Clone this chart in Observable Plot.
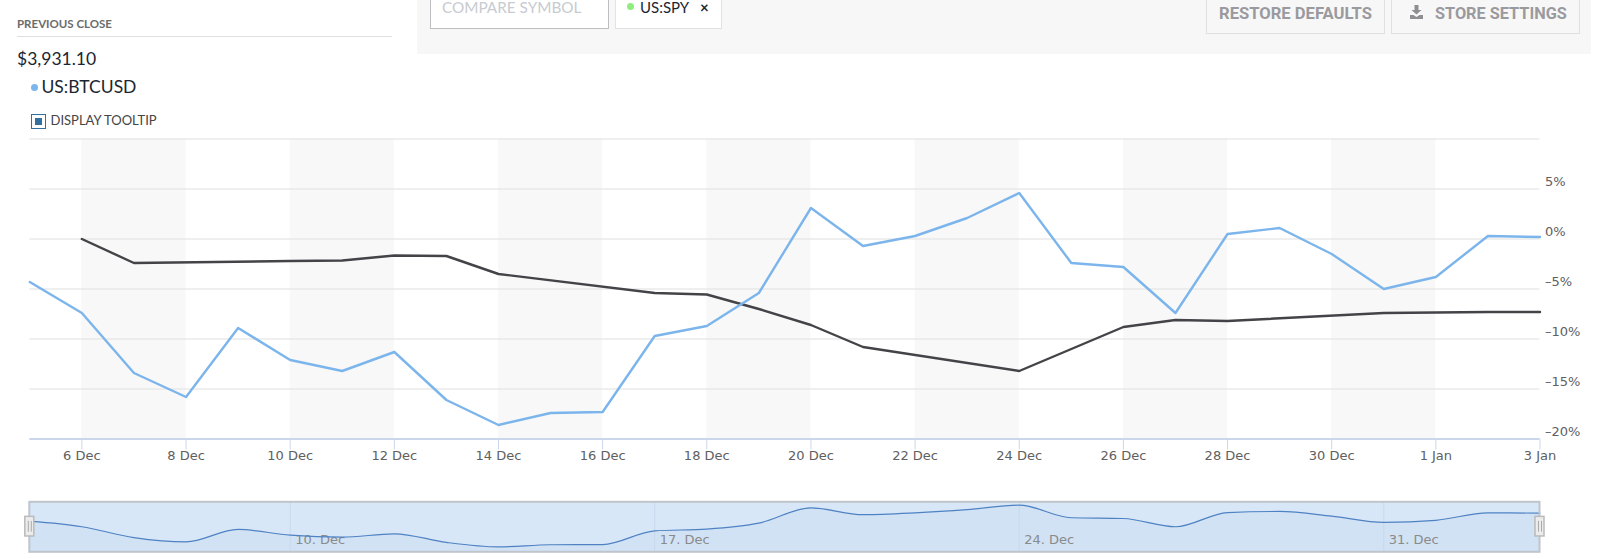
<!DOCTYPE html>
<html>
<head>
<meta charset="utf-8">
<script src="https://cdn.jsdelivr.net/npm/d3@7"></script>
<script src="https://cdn.jsdelivr.net/npm/@observablehq/plot@0.6"></script>
<style>
html,body{margin:0;padding:0;background:#fff;width:1607px;height:559px;overflow:hidden;font-family:Lato,sans-serif}
.a{position:absolute;white-space:nowrap;line-height:20px}
#main,#nav{position:absolute;left:0}
#main{top:0}
#nav{top:495px}
svg{background:transparent!important}
</style>
</head>
<body>
<div class="a" style="left:417px;top:0;width:1174px;height:54px;background:#f7f7f7"></div>
<div class="a" style="left:17px;top:14px;font-size:11.500px;font-weight:700;color:#6b6b6b">PREVIOUS CLOSE</div>
<div class="a" style="left:17px;top:36px;width:375px;height:1px;background:#dfdfdf"></div>
<div class="a" style="left:17px;top:49px;font-size:17.500px;color:#1c2630">$3,931.10</div>
<div class="a" style="left:30.500px;top:83.500px;width:7px;height:7px;border-radius:50%;background:#7cb5ec"></div>
<div class="a" style="left:41.500px;top:77px;font-size:17.500px;color:#1c2630">US:BTCUSD</div>
<div class="a" style="left:30.500px;top:114px;width:15px;height:15px;box-sizing:border-box;border:1px solid #33709f;background:#fff"></div>
<div class="a" style="left:34.500px;top:118px;width:7px;height:7px;background:#33709f"></div>
<div class="a" style="left:50.500px;top:110px;font-size:13px;color:#444">DISPLAY TOOLTIP</div>
<div class="a" style="left:430px;top:-10px;width:179px;height:39px;box-sizing:border-box;background:#fff;border:1px solid #bdbdc2"></div>
<div class="a" style="left:442px;top:0;font-size:15.300px;line-height:14px;color:#c8cbd0">COMPARE SYMBOL</div>
<div class="a" style="left:615px;top:-10px;width:107px;height:39px;box-sizing:border-box;background:#fff;border:1px solid #e2e2e2"></div>
<div class="a" style="left:627px;top:3px;width:7px;height:7px;border-radius:50%;background:#90ed7d"></div>
<div class="a" style="left:640px;top:0;font-size:15px;line-height:14px;color:#1c2630">US:SPY</div>
<div class="a" style="left:700px;top:0;font-size:15px;font-weight:700;line-height:14px;color:#1c2630">×</div>
<div class="a" style="left:1206px;top:-10px;width:179px;height:44px;box-sizing:border-box;border:1px solid #e0e0e0"></div>
<div class="a" style="left:1219px;top:3.500px;font-size:16.600px;font-weight:700;color:#9a9a9e;font-family:Roboto,sans-serif">RESTORE DEFAULTS</div>
<div class="a" style="left:1391px;top:-10px;width:189px;height:44px;box-sizing:border-box;border:1px solid #e0e0e0"></div>
<svg class="a" style="left:1409px;top:5px" width="15" height="14" viewBox="0 0 15 14"><path d="M5.500 0h4v5h3l-5 4.500-5-4.500h3zM1 10h3.500l3 2 3-2H14v4H1z" fill="#8f8f93"/></svg>
<div class="a" style="left:1435px;top:3.500px;font-size:16.300px;font-weight:700;color:#9a9a9e;font-family:Roboto,sans-serif">STORE SETTINGS</div>
<div id="main"></div>
<div id="nav"></div>
<script>
const day = s => new Date(s + "T00:00:00Z");
const btcDates = ["2018-12-05","2018-12-06","2018-12-07","2018-12-08","2018-12-09","2018-12-10","2018-12-11","2018-12-12","2018-12-13","2018-12-14","2018-12-15","2018-12-16","2018-12-17","2018-12-18","2018-12-19","2018-12-20","2018-12-21","2018-12-22","2018-12-23","2018-12-24","2018-12-25","2018-12-26","2018-12-27","2018-12-28","2018-12-29","2018-12-30","2018-12-31","2019-01-01","2019-01-02","2019-01-03"];
const btcValues = [-4.3,-7.4,-13.4,-15.8,-8.9,-12.1,-13.2,-11.3,-16.1,-18.6,-17.4,-17.3,-9.7,-8.7,-5.4,3.1,-0.7,0.3,2.1,4.6,-2.4,-2.8,-7.4,0.5,1.1,-1.5,-5.0,-3.8,0.3,0.2];
const spyDates = ["2018-12-06","2018-12-07","2018-12-10","2018-12-11","2018-12-12","2018-12-13","2018-12-14","2018-12-17","2018-12-18","2018-12-19","2018-12-20","2018-12-21","2018-12-24","2018-12-26","2018-12-27","2018-12-28","2018-12-31","2019-01-02","2019-01-03"];
const spyValues = [0,-2.4,-2.2,-2.15,-1.65,-1.7,-3.5,-5.4,-5.55,-7.0,-8.6,-10.8,-13.2,-8.8,-8.1,-8.2,-7.4,-7.3,-7.3];
const bandStarts = ["2018-12-06","2018-12-10","2018-12-14","2018-12-18","2018-12-22","2018-12-26","2018-12-30"];
const bandEnds = ["2018-12-08","2018-12-12","2018-12-16","2018-12-20","2018-12-24","2018-12-28","2019-01-01"];
const xTicks = ["2018-12-06","2018-12-08","2018-12-10","2018-12-12","2018-12-14","2018-12-16","2018-12-18","2018-12-20","2018-12-22","2018-12-24","2018-12-26","2018-12-28","2018-12-30","2019-01-01","2019-01-03"];
const yTicks = [5,0,-5,-10,-15,-20];
const yGrid = [10,5,0,-5,-10,-15];
const navTicks = ["2018-12-10","2018-12-17","2018-12-24","2018-12-31"];
const navLabels = ["10. Dec","17. Dec","24. Dec","31. Dec"];

const btc = btcDates.map((d,i)=>({date:day(d),value:btcValues[i]}));
const spy = spyDates.map((d,i)=>({date:day(d),value:spyValues[i]}));
const bands = bandStarts.map((d,i)=>({x1:day(d),x2:day(bandEnds[i])}));
const xDomain = [day(btcDates[0]), day(btcDates[btcDates.length-1])];
const fmt = d => d.getUTCDate()+" "+(d.getUTCMonth()===0?"Jan":"Dec");
const font = "'DejaVu Sans', sans-serif";

const main = Plot.plot({
  width:1607,height:480,marginLeft:29.3,marginRight:67.5,marginTop:138.5,marginBottom:41.5,
  style:{fontFamily:font,background:"transparent",overflow:"visible"},
  x:{type:"utc",domain:xDomain},
  y:{domain:[-20,10]},
  marks:[
    Plot.rect(bands,{x1:"x1",x2:"x2",y1:-20,y2:10,fill:"#f8f8f8"}),
    Plot.ruleY(yGrid,{stroke:"#e0e0e0",strokeWidth:1.2}),
    Plot.ruleY([-20],{stroke:"#ccd6eb",strokeWidth:2}),
    Plot.axisX({ticks:xTicks.map(day),tickFormat:fmt,tickSize:11,tickPadding:1,stroke:"#ccd6eb",fontSize:13,color:"#606060",fontFamily:font}),
    Plot.axisY({ticks:yTicks,anchor:"right",tickSize:0,tickPadding:5,dy:-7.5,fontSize:13,color:"#606060",fontFamily:font,label:null,tickFormat:d=>(d<0?"–"+(-d):d)+"%"}),
    Plot.line(spy,{x:"date",y:"value",stroke:"#434348",strokeWidth:2.4}),
    Plot.line(btc,{x:"date",y:"value",stroke:"#7cb5ec",strokeWidth:2.4})
  ]
});
document.getElementById("main").append(main);

const yNav = [-21.6,6.2];
const handles = xDomain.map(d=>({date:d}));
const nav = Plot.plot({
  width:1607,height:64,marginLeft:29.3,marginRight:67.5,marginTop:6.8,marginBottom:7.2,
  style:{fontFamily:font,background:"transparent",overflow:"visible"},
  x:{type:"utc",domain:xDomain,axis:null},
  y:{domain:yNav,axis:null},
  marks:[
    Plot.rect([{}],{x1:xDomain[0],x2:xDomain[1],y1:yNav[0],y2:yNav[1],fill:"#d8e7f8"}),
    Plot.areaY(btc,{x:"date",y1:yNav[0],y2:"value",fill:"#d1e2f5",curve:"monotone-x"}),
    Plot.ruleX(navTicks.map(day),{stroke:"#c8d9ed",strokeWidth:1}),
    Plot.text(navTicks.map((d,i)=>({date:day(d),label:navLabels[i]})),{x:"date",y:-14.8,text:"label",textAnchor:"start",dx:5,fontSize:13,fill:"#8a8a8a",fontFamily:font}),
    Plot.line(btc,{x:"date",y:"value",stroke:"#4f82c3",strokeWidth:1.2,curve:"monotone-x"}),
    Plot.rect([{}],{x1:xDomain[0],x2:xDomain[1],y1:yNav[0],y2:yNav[1],fill:"none",stroke:"#c0c4cb",strokeWidth:2}),
    Plot.rect(handles,{x1:"date",x2:"date",y1:-1.9,y2:-12.8,insetLeft:-4.5,insetRight:-4.5,fill:"#ececec",stroke:"#bbb",strokeWidth:1.5}),
    Plot.ruleX(handles,{x:"date",y1:-4.4,y2:-10.4,dx:-1.5,stroke:"#aaa"}),
    Plot.ruleX(handles,{x:"date",y1:-4.4,y2:-10.4,dx:1.5,stroke:"#aaa"})
  ]
});
document.getElementById("nav").append(nav);
</script>
</body>
</html>
